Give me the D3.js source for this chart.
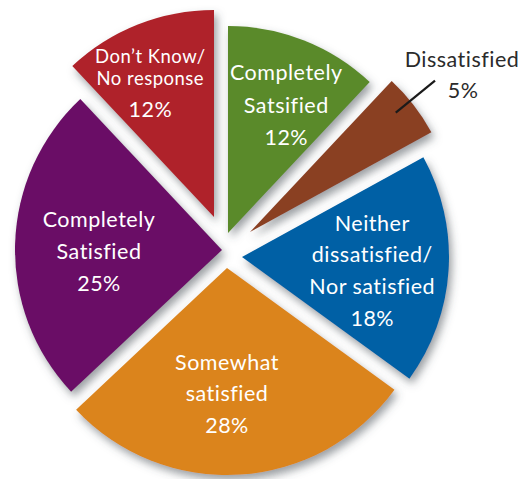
<!DOCTYPE html>
<html>
<head>
<meta charset="utf-8">
<script src="https://cdn.jsdelivr.net/npm/d3@7/dist/d3.min.js"></script>
<style>
  html, body { margin: 0; padding: 0; background: #ffffff; }
  svg { display: block; }
  text { font-family: Lato, "Open Sans", sans-serif; }
</style>
</head>
<body>
<div id="chart"></div>
<script>
// ---- data ----
const categories = ["Completely Satsified", "Dissatisfied", "Neither dissatisfied/Nor satisfied",
                    "Somewhat satisfied", "Completely Satisfied", "Don\u2019t Know/No response"];
const values = [12, 5, 18, 28, 25, 12];
const labelLines = [
  ["Completely", "Satsified", "12%"],
  ["Dissatisfied", "5%"],
  ["Neither", "dissatisfied/", "Nor satisfied", "18%"],
  ["Somewhat", "satisfied", "28%"],
  ["Completely", "Satisfied", "25%"],
  ["Don\u2019t Know/", "No response", "12%"]
];

// ---- style / layout ----
const colors = ["#5a8a2a", "#8a4024", "#0061a5", "#db841c", "#6b0c66", "#af2229"];
const W = 518, H = 479;
const center = [228, 250];
const R = 207;
// explode offset of each slice from the common centre (dx, dy)
const explode = [[0, -17], [22, -18], [14, 7], [-1, 18], [-6, 0], [-14, -33]];
// label anchor: [angle shift (deg), distance from slice apex]
const labelPolar = [[3, 140], null, [2.5, 131], [3.6, 126], [-2.7, 123], [-3.8, 148.5]];
// gaps between successive lines of each label
const lineGaps = [[33, 32], [31], [31, 32, 32], [31, 32], [32, 32], [22, 32]];
const fontSize = 21.5;
// per-line font sizes where they differ from the default
const lineSizes = [null, null, null, null, null, [18.5, 18.5, 21.5]];
const letterSpacing = 0.5;

const svg = d3.select("#chart").append("svg")
  .attr("width", W).attr("height", H);

const defs = svg.append("defs");
const f = defs.append("filter").attr("id", "shadow")
  .attr("x", "-20%").attr("y", "-20%").attr("width", "140%").attr("height", "140%");
f.append("feDropShadow").attr("dx", 3).attr("dy", 5).attr("stdDeviation", 4)
  .attr("flood-color", "#4a4f55").attr("flood-opacity", 0.55);

const pie = d3.pie().sort(null).value(d => d)(values);
const arc = d3.arc().innerRadius(0).outerRadius(R);

const g = svg.append("g").attr("transform", `translate(${center[0]},${center[1]})`);

const slices = g.selectAll("g.slice").data(pie).enter().append("g")
  .attr("class", "slice")
  .attr("transform", (d, i) => `translate(${explode[i][0]},${explode[i][1]})`);

slices.append("path")
  .attr("d", arc)
  .attr("fill", (d, i) => colors[i])
  .attr("filter", "url(#shadow)");

function lineOffsets(i) {
  const gaps = lineGaps[i];
  const pos = [0];
  gaps.forEach(gp => pos.push(pos[pos.length - 1] + gp));
  const mid = (pos[0] + pos[pos.length - 1]) / 2;
  return pos.map(p => p - mid);
}

// labels
pie.forEach((d, i) => {
  const lines = labelLines[i];
  const offs = lineOffsets(i);
  if (labelPolar[i]) {
    const mid = (d.startAngle + d.endAngle) / 2 + labelPolar[i][0] * Math.PI / 180;
    const r = labelPolar[i][1];
    const cx = center[0] + explode[i][0] + Math.sin(mid) * r;
    const cy = center[1] + explode[i][1] - Math.cos(mid) * r;
    const t = svg.append("text")
      .attr("text-anchor", "middle")
      .attr("fill", "#ffffff")
      .attr("font-size", fontSize)
      .attr("letter-spacing", letterSpacing);
    lines.forEach((ln, k) => {
      const ts = t.append("tspan")
        .attr("x", cx)
        .attr("y", cy + offs[k] + 7.2)
        .text(ln);
      if (lineSizes[i]) ts.attr("font-size", lineSizes[i][k]);
    });
  } else {
    // outside label with leader line (Dissatisfied)
    const mid = (d.startAngle + d.endAngle) / 2 - 1.5 * Math.PI / 180;
    const ox = center[0] + explode[i][0], oy = center[1] + explode[i][1];
    const p1 = [ox + Math.sin(mid) * R * 0.91, oy - Math.cos(mid) * R * 0.91];
    const p2 = [ox + Math.sin(mid) * R * 1.155, oy - Math.cos(mid) * R * 1.155];
    svg.append("line")
      .attr("x1", p1[0]).attr("y1", p1[1])
      .attr("x2", p2[0]).attr("y2", p2[1])
      .attr("stroke", "#1a1a1a").attr("stroke-width", 2.2);
    const t = svg.append("text")
      .attr("text-anchor", "middle")
      .attr("fill", "#2b2b2b")
      .attr("font-size", fontSize)
      .attr("letter-spacing", letterSpacing);
    lines.forEach((ln, k) => {
      t.append("tspan")
        .attr("x", p2[0] + 27 + (k === 1 ? 1 : 0))
        .attr("y", p2[1] + 1.5 + offs[k])
        .text(ln);
    });
  }
});
</script>
</body>
</html>
